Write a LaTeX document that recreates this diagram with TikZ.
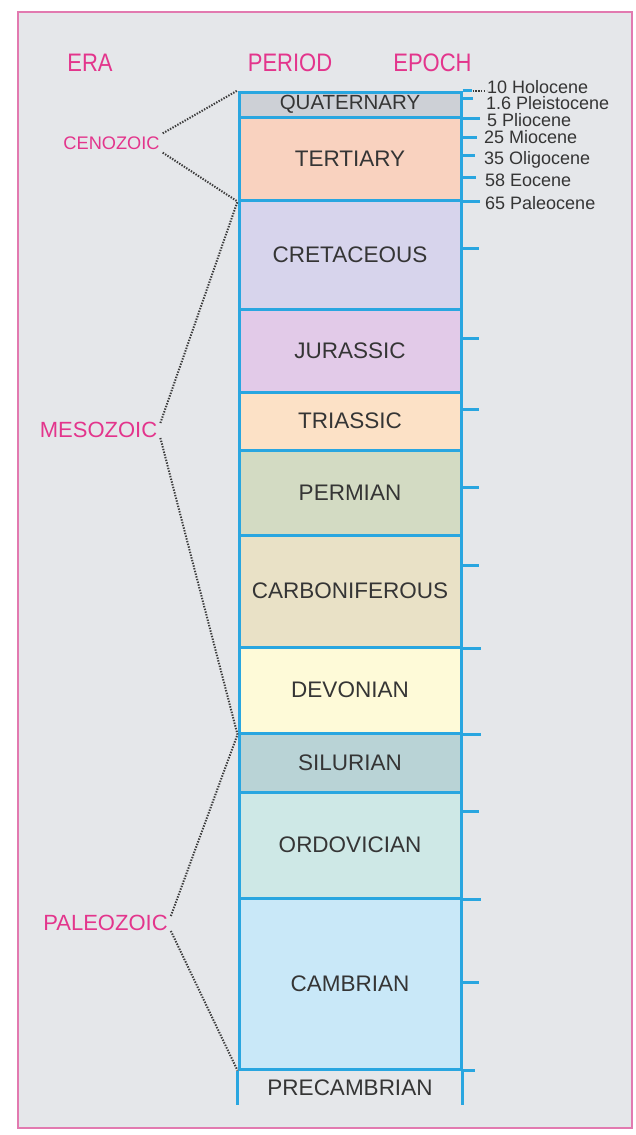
\documentclass[tikz,border=0pt]{standalone}
\usepackage{graphicx}
\usepackage{fontspec}
\setmainfont{Liberation Sans}
\definecolor{panel}{HTML}{E5E7EA}
\definecolor{framepink}{HTML}{E27AB0}
\definecolor{lineblue}{HTML}{29A6E0}
\definecolor{eracol}{HTML}{E3358C}
\definecolor{textgray}{HTML}{353535}
\definecolor{dotgray}{HTML}{3C3C3C}
\definecolor{cQ}{HTML}{CDD0D6}
\definecolor{cT}{HTML}{F9D2BF}
\definecolor{cCr}{HTML}{D7D4EC}
\definecolor{cJ}{HTML}{E2CAE8}
\definecolor{cTr}{HTML}{FCE1C6}
\definecolor{cP}{HTML}{D3DBC3}
\definecolor{cCa}{HTML}{E9E1C6}
\definecolor{cD}{HTML}{FEFAD8}
\definecolor{cS}{HTML}{B9D3D6}
\definecolor{cO}{HTML}{CEE8E6}
\definecolor{cCam}{HTML}{C9E8F8}
\begin{document}
\begin{tikzpicture}[x=1pt,y=-1pt,
  period/.style={draw=lineblue, line width=3pt, minimum width=222pt, inner sep=0pt,
    text=textgray, font=\fontsize{22.5}{24}\selectfont},
  header/.style={text=eracol, inner sep=0pt, font=\fontsize{22}{24}\selectfont},
  eralabel/.style={text=eracol, inner sep=3pt, font=\fontsize{22}{24}\selectfont},
  epochlabel/.style={anchor=base west, inner sep=0pt, text=textgray, font=\fontsize{18}{20}\selectfont},
  tickmark/.style={draw=lineblue, line width=3pt},
  eraline/.style={draw=dotgray, line width=2pt, dash pattern=on 1.4pt off 1.4pt}]
\useasboundingbox (0,0) rectangle (635,1135);
\fill[white] (0,0) rectangle (635,1135);
\draw[framepink, line width=1.5pt, fill=panel] (18,12) rectangle (632,1128);

% headers
\node[header] (hera) at (90,62.5) {\scalebox{1}[1.15]{ERA}};
\node[header] (hperiod) at (290,62.5) {\scalebox{1}[1.15]{PERIOD}};
\node[header] (hepoch) at (432.5,62.5) {\scalebox{1}[1.15]{EPOCH}};

% periods
\node[period, fill=cQ, minimum height=25pt, font=\fontsize{20.5}{22}\selectfont] (q) at (350,104.5) {QUATERNARY};
\node[period, fill=cT, minimum height=83pt] (t) at (350,158.5) {TERTIARY};
\node[period, fill=cCr, minimum height=109pt] (cr) at (350,254.5) {CRETACEOUS};
\node[period, fill=cJ, minimum height=83pt] (j) at (350,350.5) {JURASSIC};
\node[period, fill=cTr, minimum height=58pt] (tr) at (350,421) {TRIASSIC};
\node[period, fill=cP, minimum height=85pt] (p) at (350,492.5) {PERMIAN};
\node[period, fill=cCa, minimum height=112pt] (ca) at (350,591) {CARBONIFEROUS};
\node[period, fill=cD, minimum height=86pt] (d) at (350,690) {DEVONIAN};
\node[period, fill=cS, minimum height=59pt] (s) at (350,762.5) {SILURIAN};
\node[period, fill=cO, minimum height=106pt] (o) at (350,845) {ORDOVICIAN};
\node[period, fill=cCam, minimum height=171pt] (cam) at (350,983.5) {CAMBRIAN};
\node[text=textgray, font=\fontsize{22.5}{24}\selectfont, inner sep=0pt] (pre) at (350,1088) {PRECAMBRIAN};
\draw[draw=lineblue, line width=3pt] (cam.south west) -- ++(0,34);
\draw[draw=lineblue, line width=3pt] (cam.south east) -- ++(0,34);

% ticks
\draw[tickmark] (q.north east) -- ++(9,0);
\draw[eraline] ([xshift=10pt]q.north east) -- ++(14,0);
\draw[tickmark] (461,98) -- ++(12,0);
\draw[tickmark] (q.south east) -- ++(17,0);
\draw[tickmark] (461,137) -- ++(16,0);
\draw[tickmark] (461,155) -- ++(14,0);
\draw[tickmark] (461,177) -- ++(15,0);
\draw[tickmark] (t.south east) -- ++(17,0);
\foreach \yy in {248,338,409,487,565,811,982}
  \draw[tickmark] (461,\yy) -- ++(18,0);
\draw[tickmark] (ca.south east) -- ++(18,0);
\draw[tickmark] (d.south east) -- ++(18,0);
\draw[tickmark] (o.south east) -- ++(18,0);
\draw[tickmark] (cam.south east) -- ++(12,0);

% epoch labels
\node[epochlabel] (e1) at (487,93) {10 Holocene};
\node[epochlabel] (e2) at (486,109.5) {1.6 Pleistocene};
\node[epochlabel] (e3) at (487,126.4) {5 Pliocene};
\node[epochlabel] (e4) at (484,143.5) {25 Miocene};
\node[epochlabel] (e5) at (484,164) {35 Oligocene};
\node[epochlabel] (e6) at (485,186) {58 Eocene};
\node[epochlabel] (e7) at (485,209.5) {65 Paleocene};

% eras
\node[eralabel, font=\fontsize{18.2}{20}\selectfont] (ceno) at (111.5,143) {CENOZOIC};
\node[eralabel] (meso) at (98.5,430) {MESOZOIC};
\node[eralabel] (paleo) at (105.5,923) {PALEOZOIC};

\draw[eraline] (ceno.north east) -- (q.north west);
\draw[eraline] (ceno.south east) -- (t.south west);
\draw[eraline] ([yshift=-4pt]meso.north east) -- (t.south west);
\draw[eraline] ([yshift=3pt]meso.south east) -- (d.south west);
\draw[eraline] ([yshift=-4pt]paleo.north east) -- (d.south west);
\draw[eraline] ([yshift=3pt]paleo.south east) -- (cam.south west);
\end{tikzpicture}
\end{document}
